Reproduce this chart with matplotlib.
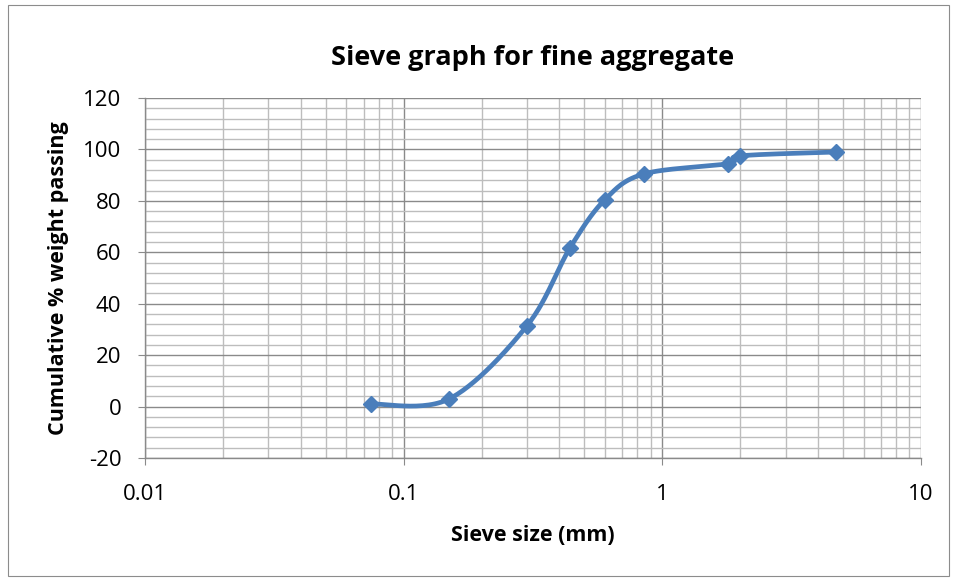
import numpy as np
import matplotlib.pyplot as plt
from matplotlib.ticker import FixedLocator, NullFormatter, FuncFormatter
from matplotlib.patches import Rectangle

# sieve data
sieve_mm = [0.075, 0.15, 0.30, 0.44, 0.60, 0.85, 1.80, 2.00, 4.70]
passing = [1.0, 3.0, 31.5, 61.8, 80.5, 90.5, 94.5, 97.5, 99.0]

title = "Sieve graph for fine aggregate"
xlabel = "Sieve size (mm)"
ylabel = "Cumulative % weight passing"
xticks = [0.01, 0.1, 1, 10]
xtick_labels = ["0.01", "0.1", "1", "10"]

blue = "#4A7EBB"
plt.rcParams["font.family"] = ["Open Sans", "DejaVu Sans"]
plt.rcParams["axes.unicode_minus"] = False

fig = plt.figure(figsize=(9.56, 5.78), dpi=100)
fig.patches.append(Rectangle((0.008, 0.004), 0.985, 0.988, transform=fig.transFigure,
                             fill=False, edgecolor="#8c8c8c", lw=0.8))
ax = fig.add_axes([0.1517, 0.2076, 0.8117, 0.6228])
ax.set_xscale("log")
ax.set_xlim(0.01, 10)
ax.set_ylim(-20, 120)


# Excel-style smoothed line (Catmull-Rom through the points, in screen-like units)
def smooth(xs, ys, n=30):
    u = np.log10(xs) * 260.7
    v = np.asarray(ys) * 2.585
    p = np.column_stack([u, v])
    p = np.vstack([p[0], p, p[-1]])
    out = []
    for i in range(1, len(p) - 2):
        p0, p1, p2, p3 = p[i - 1], p[i], p[i + 1], p[i + 2]
        c1 = p1 + (p2 - p0) / 6
        c2 = p2 - (p3 - p1) / 6
        t = np.linspace(0, 1, n)[:, None]
        seg = (1 - t) ** 3 * p1 + 3 * (1 - t) ** 2 * t * c1 + 3 * (1 - t) * t ** 2 * c2 + t ** 3 * p2
        out.append(seg)
    out = np.vstack(out)
    return 10 ** (out[:, 0] / 260.7), out[:, 1] / 2.585


sx, sy = smooth(sieve_mm, passing)
ax.plot(sx, sy, color=blue, lw=3.4, solid_capstyle="round", zorder=3)
ax.plot(sieve_mm, passing, linestyle="none", marker="D", markersize=8.5,
        color=blue, zorder=4)

# grid
ax.set_xticks(xticks)
ax.xaxis.set_major_formatter(FuncFormatter(lambda v, p: xtick_labels[xticks.index(v)] if v in xticks else ""))
minor_x = [m * 10.0 ** e for e in (-2, -1, 0) for m in range(2, 10)]
ax.xaxis.set_minor_locator(FixedLocator(minor_x))
ax.xaxis.set_minor_formatter(NullFormatter())
ax.set_yticks(range(-20, 121, 20))
ax.yaxis.set_minor_locator(FixedLocator([v for v in range(-20, 121, 4) if v % 20]))
ax.grid(which="major", color="#8a8a8a", lw=1.0)
ax.grid(which="minor", color="#bdbdbd", lw=1.0)
ax.set_axisbelow(True)

for s in ["top", "right"]:
    ax.spines[s].set_visible(False)
for s in ["left", "bottom"]:
    ax.spines[s].set_color("#8a8a8a")
    ax.spines[s].set_linewidth(1.0)
ax.tick_params(which="major", length=5, color="#8a8a8a", labelsize=16, pad=6)
ax.tick_params(axis="y", which="major", pad=12)
ax.tick_params(axis="x", which="major", pad=14)
ax.tick_params(which="minor", length=0)

ax.set_title(title, fontsize=19.5, fontweight="bold", pad=24)
ax.set_xlabel(xlabel, fontsize=15.5, fontweight="bold", labelpad=14)
ax.set_ylabel(ylabel, fontsize=15.5, fontweight="bold", labelpad=10)

fig.savefig("out.png", dpi=100)
